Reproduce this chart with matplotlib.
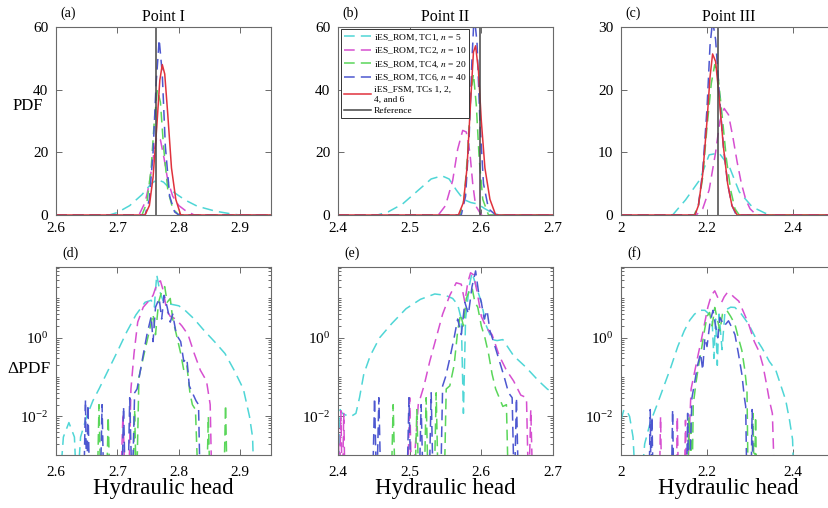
import numpy as np
import matplotlib
matplotlib.use("Agg")
import matplotlib.pyplot as plt
from matplotlib.ticker import LogLocator, LogFormatterMathtext, NullFormatter, MultipleLocator

plt.rcParams['font.family'] = ['Liberation Serif', 'DejaVu Serif']
plt.rcParams['mathtext.fontset'] = 'stix'

# ---------------- data: PDF (top row) ----------------
ref_x = [2.763, 2.598, 2.225]

a_tc1_x = [2.60, 2.687, 2.70, 2.72, 2.74, 2.755, 2.765, 2.775, 2.79, 2.81, 2.83, 2.86, 2.89, 2.90, 2.95]
a_tc1_y = [0, 0, 0.8, 3, 6.5, 10, 11.3, 10.5, 7.5, 4.8, 2.8, 1.2, 0.2, 0, 0]
a_tc2_x = [2.60, 2.735, 2.745, 2.752, 2.758, 2.764, 2.77, 2.776, 2.782, 2.79, 2.80, 2.81, 2.825, 2.95]
a_tc2_y = [0, 0, 4, 10, 18, 25, 24, 18, 11, 6, 3, 1.5, 0, 0]
a_tc4_x = [2.60, 2.74, 2.748, 2.755, 2.76, 2.765, 2.77, 2.775, 2.782, 2.79, 2.80, 2.95]
a_tc4_y = [0, 0, 4, 15, 30, 40, 36, 22, 8, 2, 0, 0]
a_tc6_x = [2.60, 2.745, 2.752, 2.758, 2.763, 2.768, 2.773, 2.778, 2.785, 2.793, 2.80, 2.95]
a_tc6_y = [0, 0, 5, 20, 42, 56, 45, 22, 6, 1, 0, 0]
a_fsm_x = [2.60, 2.745, 2.752, 2.758, 2.764, 2.769, 2.773, 2.777, 2.782, 2.788, 2.795, 2.803, 2.95]
a_fsm_y = [0, 0, 3, 12, 28, 43, 48, 45, 32, 15, 5, 0, 0]

b_tc1_x = [2.40, 2.455, 2.47, 2.49, 2.51, 2.53, 2.545, 2.555, 2.565, 2.575, 2.585, 2.595, 2.605, 2.615, 2.625, 2.70]
b_tc1_y = [0, 0, 1, 3.5, 7.5, 11.5, 12.5, 11.5, 8, 5, 4, 3.5, 2, 0.7, 0, 0]
b_tc2_x = [2.40, 2.54, 2.55, 2.56, 2.567, 2.574, 2.579, 2.584, 2.588, 2.592, 2.60, 2.70]
b_tc2_y = [0, 0, 3, 11, 21, 27, 26.5, 20, 10, 3, 0, 0]
b_tc4_x = [2.40, 2.57, 2.576, 2.581, 2.585, 2.589, 2.593, 2.597, 2.602, 2.61, 2.70]
b_tc4_y = [0, 0, 5, 20, 38, 45, 35, 18, 5, 0, 0]
b_tc6_x = [2.40, 2.572, 2.578, 2.583, 2.587, 2.59, 2.594, 2.598, 2.603, 2.61, 2.62, 2.70]
b_tc6_y = [0, 0, 6, 25, 50, 64, 55, 30, 10, 2, 0, 0]
b_fsm_x = [2.40, 2.568, 2.575, 2.58, 2.585, 2.589, 2.592, 2.596, 2.60, 2.605, 2.612, 2.62, 2.70]
b_fsm_y = [0, 0, 4, 15, 36, 52, 54, 46, 30, 15, 5, 0, 0]

c_tc1_x = [2.0, 2.12, 2.15, 2.183, 2.205, 2.228, 2.252, 2.275, 2.305, 2.335, 2.35, 2.5]
c_tc1_y = [0, 0, 2.4, 5.6, 9.6, 9.9, 7.7, 3.7, 1.3, 0.3, 0, 0]
c_tc2_x = [2.0, 2.175, 2.19, 2.205, 2.22, 2.23, 2.24, 2.25, 2.26, 2.27, 2.28, 2.29, 2.30, 2.315, 2.5]
c_tc2_y = [0, 0, 1, 4, 10, 15, 17, 16, 12.5, 8.5, 5, 2.5, 1, 0, 0]
c_tc4_x = [2.0, 2.17, 2.18, 2.19, 2.20, 2.21, 2.218, 2.226, 2.235, 2.245, 2.255, 2.265, 2.275, 2.5]
c_tc4_y = [0, 0, 1.5, 6, 14, 21, 24, 22, 16, 9, 4, 1, 0, 0]
c_tc6_x = [2.0, 2.172, 2.18, 2.19, 2.20, 2.207, 2.213, 2.22, 2.228, 2.238, 2.248, 2.258, 2.268, 2.5]
c_tc6_y = [0, 0, 1.5, 7, 17, 27, 31, 28, 20, 11, 5, 1.5, 0, 0]
c_fsm_x = [2.0, 2.172, 2.18, 2.19, 2.20, 2.207, 2.213, 2.22, 2.228, 2.238, 2.248, 2.258, 2.27, 2.5]
c_fsm_y = [0, 0, 1.5, 6.5, 15, 22, 25.7, 24.5, 19, 11, 5, 1.5, 0, 0]

# ---------------- data: delta PDF (bottom row, log) ----------------
d_tc1_x = [2.605, 2.612, 2.621, 2.630, 2.634, 2.640, 2.650, 2.660, 2.670, 2.685, 2.700, 2.715, 2.730, 2.745,
           2.755, 2.760, 2.764, 2.769, 2.774, 2.780, 2.790, 2.800, 2.810, 2.825, 2.840, 2.858, 2.875, 2.890,
           2.905, 2.915, 2.920, 2.923]
d_tc1_y = [1e-4, 3e-3, 7e-3, 3e-3, 1e-4, 3e-3, 1e-2, 2.5e-2, 5e-2, 0.15, 0.45, 1.4, 3.8, 8,
           9, 6, 40, 15, 9, 7.5, 7, 6.5, 5, 3, 1.6, 0.8, 0.4, 0.15,
           0.05, 0.01, 3e-3, 1e-4]
d_tc2_x = [2.705, 2.709, 2.713, 2.718, 2.722, 2.727, 2.733, 2.742, 2.752, 2.758, 2.765, 2.770, 2.775, 2.780,
           2.786, 2.795, 2.805, 2.815, 2.825, 2.835, 2.845, 2.851, 2.854]
d_tc2_y = [1e-4, 1.2e-2, 1e-4, 1e-4, 0.05, 0.4, 2.5, 6, 9, 12, 25, 28, 15, 5,
           3.5, 3, 2, 1.2, 0.4, 0.15, 0.08, 0.02, 1e-4]
d_tc4_x = [2.667, 2.670, 2.673, 2.682, 2.685, 2.688, 2.725, 2.728, 2.731, 2.735, 2.745, 2.752, 2.758, 2.762,
           2.767, 2.772, 2.777, 2.781, 2.786, 2.790, 2.796, 2.803, 2.808, 2.813, 2.818, 2.822, 2.827, 2.832,
           2.845, 2.848, 2.851, 2.873, 2.876, 2.879]
d_tc4_y = [1e-4, 0.02, 1e-4, 1e-4, 0.01, 1e-4, 1e-4, 0.015, 1e-4, 0.1, 0.5, 1.5, 4, 1.2,
           8, 15, 20, 8, 10, 3, 1.2, 0.4, 0.15, 0.2, 0.04, 0.02, 0.015, 1e-4,
           1e-4, 0.01, 1e-4, 1e-4, 0.02, 1e-4]
d_tc6_x = [2.645, 2.648, 2.650, 2.652, 2.655, 2.672, 2.675, 2.678, 2.707, 2.710, 2.713, 2.717, 2.720, 2.724,
           2.728, 2.732, 2.740, 2.748, 2.755, 2.758, 2.762, 2.768, 2.772, 2.776, 2.781, 2.786, 2.790, 2.796,
           2.803, 2.808, 2.813, 2.817, 2.822, 2.828, 2.832, 2.835]
d_tc6_y = [1e-4, 0.027, 1e-4, 0.02, 1e-4, 1e-4, 0.02, 1e-4, 1e-4, 0.018, 1e-4, 1e-4, 0.03, 1e-4,
           0.04, 0.05, 0.25, 1.2, 3.5, 0.8, 6, 10, 3, 12, 6, 2.5, 4, 1.2,
           0.8, 0.25, 0.3, 0.06, 0.04, 0.025, 0.02, 1e-4]

e_tc1_x = [2.400, 2.403, 2.406, 2.410, 2.418, 2.425, 2.430, 2.436, 2.445, 2.458, 2.475, 2.495, 2.515, 2.535,
           2.550, 2.560, 2.567, 2.572, 2.575, 2.578, 2.583, 2.587, 2.593, 2.600, 2.607, 2.615, 2.622, 2.630,
           2.645, 2.662, 2.680, 2.692, 2.700]
e_tc1_y = [1e-4, 0.015, 0.012, 0.011, 0.010, 0.012, 0.03, 0.12, 0.35, 1.0, 2.3, 5.5, 9.5, 13,
           12, 10, 7, 3, 0.012, 3, 20, 45, 20, 8, 2, 0.9, 0.85, 0.9,
           0.35, 0.18, 0.08, 0.05, 0.04]
e_tc2_x = [2.400, 2.402, 2.404, 2.406, 2.408, 2.410, 2.497, 2.500, 2.503, 2.512, 2.520, 2.528, 2.537, 2.546,
           2.556, 2.565, 2.572, 2.577, 2.581, 2.585, 2.589, 2.594, 2.600, 2.607, 2.615, 2.625, 2.635, 2.645,
           2.655, 2.663, 2.666, 2.669, 2.672]
e_tc2_y = [0.015, 1e-4, 0.014, 1e-4, 0.012, 1e-4, 1e-4, 0.03, 1e-4, 0.02, 0.06, 0.25, 1.0, 4,
           12, 25, 23, 8, 25, 45, 40, 15, 3.5, 1.8, 1.2, 0.35, 0.15, 0.08,
           0.035, 0.03, 1e-4, 0.015, 1e-4]
e_tc4_x = [2.474, 2.477, 2.480, 2.507, 2.510, 2.513, 2.520, 2.523, 2.526, 2.534, 2.537, 2.540, 2.548, 2.551,
           2.556, 2.562, 2.567, 2.571, 2.575, 2.579, 2.583, 2.587, 2.591, 2.595, 2.600, 2.605, 2.610, 2.615,
           2.620, 2.625, 2.630, 2.635, 2.638]
e_tc4_y = [1e-4, 0.02, 1e-4, 1e-4, 0.015, 1e-4, 1e-4, 0.03, 1e-4, 1e-4, 0.04, 1e-4, 1e-4, 0.05,
           0.06, 0.2, 1.5, 4, 2, 10, 15, 19, 8, 6, 2, 1, 0.4, 0.12,
           0.05, 0.03, 0.018, 0.02, 1e-4]
e_tc6_x = [2.448, 2.451, 2.454, 2.457, 2.460, 2.496, 2.499, 2.502, 2.513, 2.516, 2.519, 2.527, 2.530, 2.533,
           2.543, 2.546, 2.550, 2.556, 2.562, 2.567, 2.572, 2.577, 2.582, 2.587, 2.592, 2.596, 2.600, 2.604,
           2.608, 2.612, 2.617, 2.622, 2.627, 2.632, 2.638, 2.643, 2.646, 2.649, 2.652]
e_tc6_y = [1e-4, 0.03, 1e-4, 0.03, 1e-4, 1e-4, 0.03, 1e-4, 1e-4, 0.02, 1e-4, 1e-4, 0.04, 1e-4,
           1e-4, 0.06, 0.1, 0.3, 1.0, 3, 1.2, 8, 4, 20, 50, 15, 8, 3,
           5, 1.5, 0.8, 0.4, 0.2, 0.1, 0.04, 0.03, 1e-4, 0.03, 1e-4]

f_tc1_x = [2.000, 2.006, 2.012, 2.020, 2.028, 2.035, 2.045, 2.055, 2.068, 2.084, 2.100, 2.116, 2.132, 2.147,
           2.160, 2.171, 2.185, 2.195, 2.205, 2.212, 2.216, 2.220, 2.224, 2.228, 2.235, 2.242, 2.255, 2.265,
           2.280, 2.297, 2.313, 2.328, 2.345, 2.360, 2.372, 2.383, 2.392, 2.399, 2.403]
f_tc1_y = [0.008, 0.014, 0.015, 0.01, 0.003, 1e-4, 1e-4, 0.002, 0.007, 0.02, 0.06, 0.18, 0.6, 1.5,
           2.8, 4, 5, 5, 4, 2.7, 0.3, 3, 0.2, 4, 0.5, 5, 6, 5.9,
           4, 2.2, 1, 0.55, 0.25, 0.15, 0.06, 0.026, 0.008, 0.0026, 1e-4]
f_tc2_x = [2.089, 2.092, 2.095, 2.128, 2.131, 2.134, 2.147, 2.150, 2.153, 2.163, 2.172, 2.180, 2.187, 2.195,
           2.202, 2.210, 2.218, 2.226, 2.234, 2.240, 2.247, 2.254, 2.262, 2.274, 2.285, 2.297, 2.310, 2.321,
           2.330, 2.337, 2.345, 2.352, 2.358]
f_tc2_y = [1e-4, 0.01, 1e-4, 1e-4, 0.01, 1e-4, 1e-4, 0.008, 1e-4, 0.05, 0.15, 0.4, 0.9, 2.5,
           6, 12, 15.6, 10, 8, 11, 14, 13.5, 11, 8.5, 4.5, 2.2, 0.8, 0.45,
           0.2, 0.08, 0.026, 0.012, 1e-4]
f_tc4_x = [2.155, 2.158, 2.160, 2.162, 2.165, 2.168, 2.175, 2.182, 2.187, 2.194, 2.200, 2.206, 2.212, 2.218,
           2.224, 2.230, 2.236, 2.246, 2.255, 2.265, 2.273, 2.281, 2.288, 2.293, 2.296, 2.304, 2.307, 2.310,
           2.313, 2.316]
f_tc4_y = [1e-4, 0.01, 1e-4, 0.008, 1e-4, 0.02, 0.08, 0.25, 0.5, 1.5, 3.5, 4.4, 2, 5.9,
           3, 1.5, 4, 5, 3.5, 2.2, 1, 0.48, 0.15, 0.046, 1e-4, 1e-4, 0.012, 1e-4,
           0.01, 1e-4]
f_tc6_x = [2.065, 2.068, 2.070, 2.072, 2.075, 2.117, 2.120, 2.123, 2.152, 2.155, 2.158, 2.165, 2.171, 2.178,
           2.185, 2.190, 2.195, 2.200, 2.207, 2.214, 2.220, 2.225, 2.230, 2.240, 2.250, 2.258, 2.265, 2.273,
           2.281, 2.287, 2.290, 2.293, 2.302, 2.305, 2.308]
f_tc6_y = [1e-4, 0.015, 1e-4, 0.01, 1e-4, 1e-4, 0.015, 1e-4, 1e-4, 0.012, 1e-4, 0.03, 0.07, 0.2,
           0.4, 0.15, 1.0, 0.6, 2.5, 5, 2, 1, 3.3, 2, 2.7, 1.8, 1.2, 0.4,
           0.12, 0.03, 0.018, 1e-4, 1e-4, 0.015, 1e-4]

labels = ["iES_ROM, TC1, $n$ = 5", "iES_ROM, TC2, $n$ = 10", "iES_ROM, TC4, $n$ = 20",
          "iES_ROM, TC6, $n$ = 40", "iES_FSM, TCs 1, 2,\n4, and 6", "Reference"]
col_tc1 = '#4fd6d6'
col_tc2 = '#d64fd0'
col_tc4 = '#5ad65a'
col_tc6 = '#4d57d0'
col_fsm = '#e0323d'
col_ref = '#454545'
dash = (0, (7, 4))

titles = ["Point I", "Point II", "Point III"]
xlims = [(2.6, 2.95), (2.4, 2.7), (2.0, 2.5)]
xticks = [[2.6, 2.7, 2.8, 2.9], [2.4, 2.5, 2.6, 2.7], [2.0, 2.2, 2.4]]
xticklabels = [['2.6', '2.7', '2.8', '2.9'], ['2.4', '2.5', '2.6', '2.7'], ['2', '2.2', '2.4']]
ylims_top = [60, 60, 30]

top_data = [
    [(a_tc1_x, a_tc1_y), (a_tc2_x, a_tc2_y), (a_tc4_x, a_tc4_y), (a_tc6_x, a_tc6_y), (a_fsm_x, a_fsm_y)],
    [(b_tc1_x, b_tc1_y), (b_tc2_x, b_tc2_y), (b_tc4_x, b_tc4_y), (b_tc6_x, b_tc6_y), (b_fsm_x, b_fsm_y)],
    [(c_tc1_x, c_tc1_y), (c_tc2_x, c_tc2_y), (c_tc4_x, c_tc4_y), (c_tc6_x, c_tc6_y), (c_fsm_x, c_fsm_y)],
]
bot_data = [
    [(d_tc1_x, d_tc1_y), (d_tc2_x, d_tc2_y), (d_tc4_x, d_tc4_y), (d_tc6_x, d_tc6_y)],
    [(e_tc1_x, e_tc1_y), (e_tc2_x, e_tc2_y), (e_tc4_x, e_tc4_y), (e_tc6_x, e_tc6_y)],
    [(f_tc1_x, f_tc1_y), (f_tc2_x, f_tc2_y), (f_tc4_x, f_tc4_y), (f_tc6_x, f_tc6_y)],
]
rom_cols = [col_tc1, col_tc2, col_tc4, col_tc6]

W, H = 829, 508
fig = plt.figure(figsize=(W / 100, H / 100), dpi=100)


def px_axes(left, top, w, h):
    return fig.add_axes([left / W, 1 - (top + h) / H, w / W, h / H])


def style(ax, xpad):
    for s in ax.spines.values():
        s.set_color('#6a6a6a')
        s.set_linewidth(0.8)
    ax.tick_params(which='both', direction='in', top=True, right=True, color='#6a6a6a',
                   labelsize=11, width=0.7)
    ax.tick_params(which='major', length=4)
    ax.tick_params(which='minor', length=2)
    ax.tick_params(axis='y', pad=5.5)
    ax.tick_params(axis='x', pad=xpad)


lefts = [56, 338, 621]
for i in range(3):
    # top row: PDF
    ax = px_axes(lefts[i], 27, 215, 188)
    style(ax, 5)
    for (x, y), c in zip(top_data[i][:4], rom_cols):
        ax.plot(x, y, color=c, lw=1.1, linestyle=dash)
    fx, fy = top_data[i][4]
    ax.plot(fx, fy, color=col_fsm, lw=1.1)
    ax.axvline(ref_x[i], color=col_ref, lw=1.1)
    ax.set_xlim(*xlims[i])
    ax.set_ylim(0, ylims_top[i])
    ax.yaxis.set_major_locator(MultipleLocator(ylims_top[i] / 3))
    ax.set_xticks(xticks[i])
    ax.set_xticklabels(xticklabels[i])
    ax.set_title(titles[i], fontsize=11.5, pad=4)
    ax.text(0.02, 1.035, "(%s)" % "abc"[i], transform=ax.transAxes,
            fontsize=10, va='bottom', ha='left')
    if i == 0:
        ax.text(-0.2, 0.58, "PDF", transform=ax.transAxes, fontsize=12, va='center', ha='left')
    if i == 1:
        leg = ax.legend(ax.lines[:6], labels, loc='upper left', bbox_to_anchor=(0.012, 0.988),
                        borderaxespad=0, fontsize=6.8, handlelength=2.9, labelspacing=0.32,
                        fancybox=False, framealpha=1, edgecolor='#333333', borderpad=0.35,
                        handletextpad=0.25)
        leg.get_frame().set_linewidth(0.7)

    # bottom row: delta PDF
    ax = px_axes(lefts[i], 267, 215, 188)
    style(ax, 8)
    ax.set_yscale('log')
    for (x, y), c in zip(bot_data[i], rom_cols):
        ax.plot(x, y, color=c, lw=1.1, linestyle=dash)
    ax.set_xlim(*xlims[i])
    ax.set_ylim(1.05e-3, 63)
    ax.yaxis.set_major_locator(LogLocator(base=100.0))
    ax.yaxis.set_major_formatter(LogFormatterMathtext(base=10.0))
    ax.yaxis.set_minor_locator(LogLocator(base=10.0, subs=np.arange(1, 10), numticks=30))
    ax.yaxis.set_minor_formatter(NullFormatter())
    ax.set_xticks(xticks[i])
    ax.set_xticklabels(xticklabels[i])
    ax.text(0.03, 1.035, "(%s)" % "def"[i], transform=ax.transAxes,
            fontsize=10, va='bottom', ha='left')
    ax.text(0.5, -0.178, "Hydraulic head", transform=ax.transAxes, fontsize=16.5,
            va='center', ha='center')
    if i == 0:
        ax.text(-0.225, 0.46, "\u0394PDF", transform=ax.transAxes, fontsize=12.5, va='center', ha='left')

fig.savefig("out.png", dpi=100)
